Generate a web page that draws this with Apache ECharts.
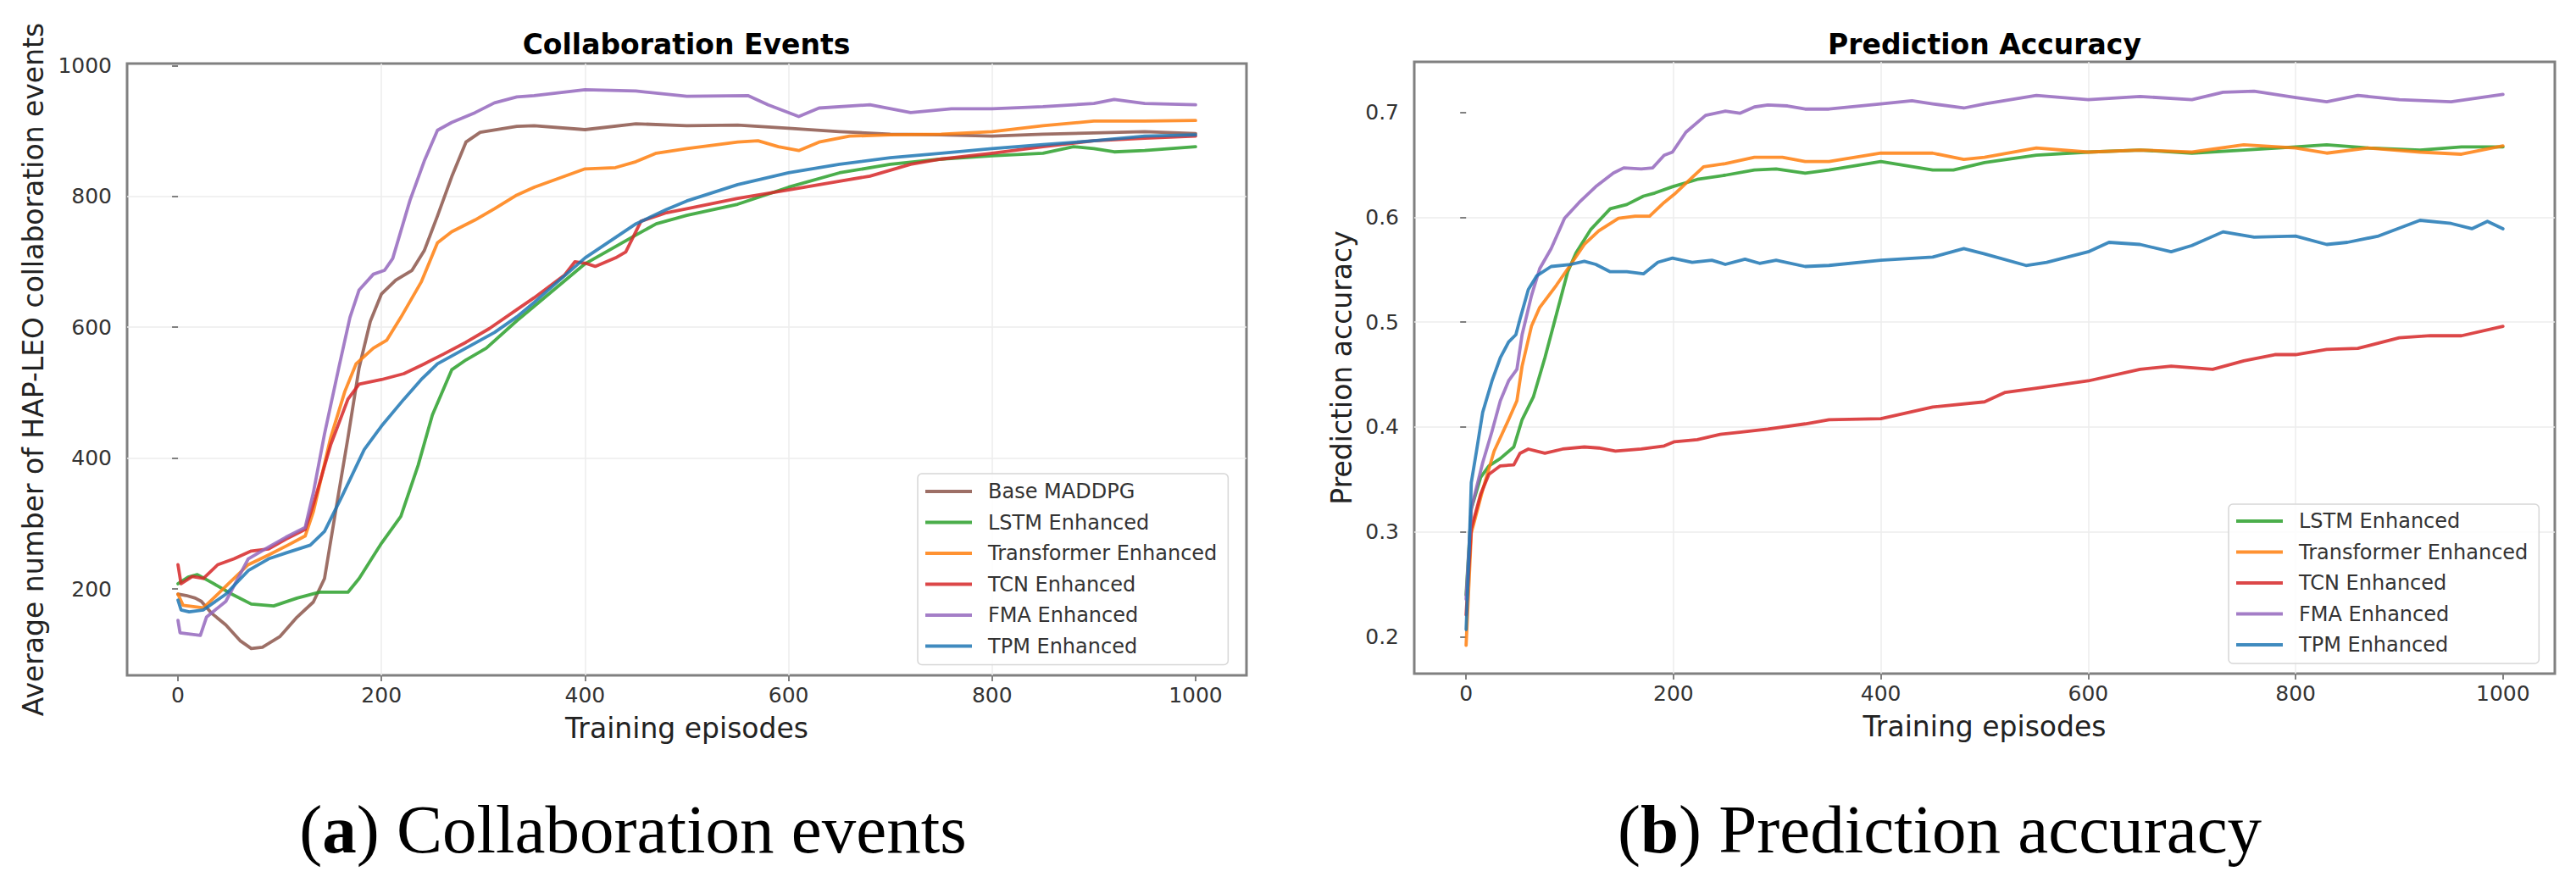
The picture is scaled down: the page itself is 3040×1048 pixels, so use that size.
<!DOCTYPE html>
<html>
<head>
<meta charset="utf-8">
<script src="https://cdn.jsdelivr.net/npm/echarts@6/dist/echarts.min.js"></script>
<style>
  html, body { margin: 0; padding: 0; background: #ffffff; }
  #c { width: 3040px; height: 1048px; }
</style>
</head>
<body>
<div id="c"></div>
<script>
// ---------- DATA ----------
const xTicks = [0, 200, 400, 600, 800, 1000];
const collabTicks = [200, 400, 600, 800, 1000];
const accTicks = [0.2, 0.3, 0.4, 0.5, 0.6, 0.7];

const collabNames = ['Base MADDPG', 'LSTM Enhanced', 'Transformer Enhanced', 'TCN Enhanced', 'FMA Enhanced', 'TPM Enhanced'];
const accNames = ['LSTM Enhanced', 'Transformer Enhanced', 'TCN Enhanced', 'FMA Enhanced', 'TPM Enhanced'];

// Collaboration events: [episode, value]
const collabBase = [[0,192],[8,190],[17,186],[23,181],[33,163],[47,145],[61,121],[72,109],[83,111],[100,127],[117,157],[133,180],[144,216],[156,329],[167,431],[178,538],[189,609],[200,651],[214,672],[230,687],[242,717],[255,770],[269,830],[283,883],[297,898],[333,907],[350,908],[400,902],[450,911],[500,908],[550,909],[600,904],[650,899],[700,895],[750,894],[800,892],[850,895],[900,897],[950,899],[1000,896]];
const collabLSTM = [[0,208],[10,218],[19,222],[33,210],[53,192],[72,177],[94,174],[117,186],[139,195],[167,195],[178,216],[200,270],[219,311],[236,389],[250,466],[269,535],[283,550],[303,568],[333,610],[350,632],[400,697],[450,741],[470,758],[500,771],[550,788],[600,814],[650,836],[700,849],[750,857],[800,862],[850,866],[880,876],[900,873],[920,868],[950,870],[1000,876]];
const collabTransformer = [[0,192],[5,175],[25,171],[47,204],[69,237],[89,252],[108,267],[125,281],[133,318],[150,431],[164,502],[175,544],[192,568],[205,580],[219,615],[239,669],[255,729],[269,746],[292,764],[311,781],[333,802],[350,814],[400,842],[430,844],[450,853],[470,866],[500,873],[550,883],[570,885],[590,876],[610,870],[630,883],[660,892],[700,894],[750,895],[800,899],[850,908],[900,915],[950,915],[1000,916]];
const collabTCN = [[0,237],[3,208],[14,219],[25,216],[39,237],[55,246],[72,258],[89,261],[106,276],[125,291],[133,329],[150,420],[167,490],[178,513],[200,520],[222,529],[242,544],[261,559],[283,577],[306,598],[333,627],[350,645],[380,680],[390,700],[400,698],[410,693],[430,706],[440,715],[455,762],[480,775],[500,781],[550,797],[600,810],[650,823],[680,831],[720,849],[750,857],[800,866],[850,876],[900,885],[950,889],[1000,892]];
const collabFMA = [[0,152],[2,133],[22,129],[28,157],[47,181],[69,246],[89,264],[106,279],[125,294],[133,347],[144,437],[158,538],[169,615],[178,657],[192,681],[203,687],[211,705],[228,794],[242,854],[255,901],[269,913],[292,928],[311,943],[333,952],[350,954],[400,963],[450,961],[500,953],[560,954],[580,940],[610,922],[630,935],[680,940],[720,928],[760,934],[800,934],[850,937],[900,942],[920,948],[950,942],[1000,940]];
const collabTPM = [[0,183],[3,168],[11,165],[25,168],[47,192],[69,228],[89,246],[106,255],[130,267],[144,288],[161,341],[183,413],[200,449],[222,490],[239,520],[255,544],[283,568],[311,592],[333,616],[350,638],[400,706],[450,758],[480,780],[500,793],[550,818],[600,836],[650,849],[700,859],[750,866],[800,873],[850,879],[900,885],[950,892],[1000,894]];

// Prediction accuracy: [episode, value]
const accLSTM = [[0,0.240],[5,0.322],[14,0.352],[22,0.363],[33,0.370],[46,0.381],[54,0.407],[65,0.429],[76,0.466],[87,0.507],[98,0.548],[106,0.566],[120,0.588],[139,0.608],[155,0.612],[171,0.620],[182,0.623],[199,0.629],[223,0.636],[250,0.640],[278,0.645],[299,0.646],[327,0.642],[350,0.645],[400,0.653],[450,0.645],[470,0.645],[500,0.652],[550,0.659],[600,0.662],[650,0.664],[700,0.661],[750,0.664],[800,0.667],[830,0.669],[870,0.666],[920,0.664],[960,0.667],[1000,0.667]];
const accTransformer = [[0,0.192],[5,0.299],[16,0.340],[27,0.377],[41,0.407],[49,0.425],[54,0.458],[63,0.496],[71,0.514],[87,0.535],[101,0.555],[114,0.574],[128,0.587],[147,0.599],[163,0.601],[177,0.601],[191,0.614],[201,0.622],[215,0.635],[229,0.648],[250,0.651],[278,0.657],[305,0.657],[327,0.653],[350,0.653],[400,0.661],[450,0.661],[480,0.655],[500,0.657],[550,0.666],[600,0.662],[650,0.664],[700,0.662],[750,0.669],[800,0.666],[830,0.661],[870,0.666],[920,0.662],[960,0.660],[1000,0.668]];
const accTCN = [[0,0.221],[5,0.303],[14,0.336],[22,0.355],[33,0.363],[46,0.364],[52,0.375],[60,0.379],[76,0.375],[93,0.379],[114,0.381],[128,0.380],[144,0.377],[169,0.379],[191,0.382],[201,0.386],[223,0.388],[245,0.393],[264,0.395],[291,0.398],[327,0.403],[350,0.407],[400,0.408],[450,0.419],[500,0.424],[520,0.433],[550,0.437],[600,0.444],[650,0.455],[680,0.458],[720,0.455],[750,0.463],[780,0.469],[800,0.469],[830,0.474],[860,0.475],[900,0.485],[930,0.487],[960,0.487],[1000,0.496]];
const accFMA = [[0,0.236],[5,0.322],[16,0.366],[25,0.396],[33,0.425],[41,0.444],[49,0.455],[54,0.488],[63,0.525],[71,0.551],[82,0.570],[95,0.599],[109,0.614],[125,0.629],[142,0.642],[152,0.647],[169,0.646],[180,0.647],[191,0.659],[199,0.662],[212,0.681],[231,0.697],[250,0.701],[264,0.699],[278,0.705],[291,0.707],[310,0.706],[327,0.703],[350,0.703],[400,0.708],[430,0.711],[450,0.708],[480,0.704],[500,0.708],[550,0.716],[600,0.712],[650,0.715],[700,0.712],[730,0.719],[760,0.720],[800,0.714],[830,0.710],[860,0.716],[900,0.712],[950,0.710],[1000,0.717]];
const accTPM = [[0,0.207],[3,0.284],[5,0.347],[10,0.377],[16,0.414],[25,0.444],[33,0.466],[41,0.481],[48,0.488],[52,0.503],[60,0.531],[68,0.544],[82,0.553],[101,0.555],[114,0.558],[125,0.555],[139,0.548],[155,0.548],[171,0.546],[185,0.557],[199,0.561],[218,0.557],[237,0.559],[250,0.555],[269,0.560],[283,0.556],[299,0.559],[327,0.553],[350,0.554],[400,0.559],[450,0.562],[480,0.570],[500,0.565],[540,0.554],[560,0.557],[600,0.567],[620,0.576],[650,0.574],[680,0.567],[700,0.573],[730,0.586],[760,0.581],[800,0.582],[830,0.574],[850,0.576],[880,0.582],[920,0.597],[950,0.594],[970,0.589],[985,0.596],[1000,0.589]];

// ---------- STYLE ----------
const COLORS = {
  'Base MADDPG': '#8c564b',
  'LSTM Enhanced': '#2ca02c',
  'Transformer Enhanced': '#ff7f0e',
  'TCN Enhanced': '#d62728',
  'FMA Enhanced': '#9467bd',
  'TPM Enhanced': '#1f77b4'
};
const SANS = '"DejaVu Sans", "Noto Sans", sans-serif';
const SERIF = '"Liberation Serif", "DejaVu Serif", serif';
const SPINE = '#808080';

function xAxisCfg(gridIndex) {
  return {
    gridIndex, type: 'value', min: -50, max: 1050, splitNumber: 5,
    name: 'Training episodes', nameLocation: 'middle', nameGap: 46,
    nameTextStyle: { fontFamily: SANS, fontSize: 33, color: '#222' },
    axisLine: { show: false },
    axisTick: { show: true, length: 7, customValues: xTicks, lineStyle: { color: SPINE, width: 2 } },
    axisLabel: { customValues: xTicks, margin: 11, fontFamily: SANS, fontSize: 25, color: '#333',
      formatter: v => (xTicks.indexOf(v) >= 0 ? String(v) : '') },
    splitLine: { show: true, showMinLine: false, showMaxLine: false, lineStyle: { color: '#ececec', width: 1.5 } }
  };
}
function yAxisCfg(gridIndex, min, max, ticks, name, gap, fmt) {
  return {
    gridIndex, type: 'value', min, max, splitNumber: 5,
    name, nameLocation: 'middle', nameGap: gap,
    nameTextStyle: { fontFamily: SANS, fontSize: 33, color: '#222' },
    axisLine: { show: false },
    axisTick: { show: true, length: 7, customValues: ticks, lineStyle: { color: SPINE, width: 2 } },
    axisLabel: { customValues: ticks, margin: 18, fontFamily: SANS, fontSize: 25, color: '#333',
      formatter: v => { const hit = ticks.find(t => Math.abs(t - v) < 1e-6); return hit === undefined ? '' : fmt(hit); } },
    splitLine: { show: true, showMinLine: false, showMaxLine: false, lineStyle: { color: '#ececec', width: 1.5 } }
  };
}
function lineSeries(name, data, idx) {
  return {
    type: 'line', name, data, xAxisIndex: idx, yAxisIndex: idx,
    showSymbol: false, symbol: 'none', smooth: false, animation: false,
    lineStyle: { color: COLORS[name], width: 3.8, opacity: 0.85, join: 'round', cap: 'round' },
    itemStyle: { color: COLORS[name] },
    emphasis: { disabled: true }
  };
}
function legendCfg(names, left, top, padTop) {
  return {
    show: true, orient: 'vertical', left, top,
    data: names.map(n => ({ name: n, icon: 'rect', itemStyle: { color: COLORS[n], opacity: 0.85 } })),
    itemWidth: 55, itemHeight: 4, itemGap: 12.5,
    padding: [padTop, 13, 10, 9],
    backgroundColor: 'rgba(255,255,255,0.85)', borderColor: '#d6d6d6', borderWidth: 1.5, borderRadius: 5,
    textStyle: { fontFamily: SANS, fontSize: 24, color: '#333', lineHeight: 24, padding: [0, 0, 0, 14] },
    selectedMode: false
  };
}

const collabData = [collabBase, collabLSTM, collabTransformer, collabTCN, collabFMA, collabTPM];
const accData = [accLSTM, accTransformer, accTCN, accFMA, accTPM];

const option = {
  backgroundColor: '#ffffff',
  animation: false,
  grid: [
    { left: 150, top: 75, width: 1321, height: 722, show: true, borderColor: SPINE, borderWidth: 3, backgroundColor: 'transparent' },
    { left: 1669, top: 73, width: 1346, height: 722, show: true, borderColor: SPINE, borderWidth: 3, backgroundColor: 'transparent' }
  ],
  xAxis: [xAxisCfg(0), xAxisCfg(1)],
  yAxis: [
    yAxisCfg(0, 68, 1003, collabTicks, 'Average number of HAP-LEO collaboration events', 94, v => String(v)),
    yAxisCfg(1, 0.165, 0.748, accTicks, 'Prediction accuracy', 69, v => v.toFixed(1))
  ],
  legend: [
    legendCfg(collabNames, 1083, 559, 9),
    legendCfg(accNames, 2630, 595, 8)
  ],
  series: [
    ...collabNames.map((n, i) => lineSeries(n, collabData[i], 0)),
    ...accNames.map((n, i) => lineSeries(n, accData[i], 1))
  ],
  graphic: [
    { type: 'text', x: 810, y: 52, z: 10,
      style: { text: 'Collaboration Events', fontFamily: SANS, fontSize: 33, fontWeight: 'bold', fill: '#000',
        align: 'center', verticalAlign: 'middle', textAlign: 'center', textVerticalAlign: 'middle' } },
    { type: 'text', x: 2342, y: 52, z: 10,
      style: { text: 'Prediction Accuracy', fontFamily: SANS, fontSize: 33, fontWeight: 'bold', fill: '#000',
        align: 'center', verticalAlign: 'middle', textAlign: 'center', textVerticalAlign: 'middle' } },
    { type: 'text', x: 747, y: 979, z: 10,
      style: { text: '({b|a}) Collaboration events', fontFamily: SERIF, fontSize: 81, fill: '#000',
        align: 'center', verticalAlign: 'middle', textAlign: 'center', textVerticalAlign: 'middle',
        rich: { b: { fontFamily: SERIF, fontSize: 81, fontWeight: 'bold', fill: '#000' } } } },
    { type: 'text', x: 2289, y: 979, z: 10,
      style: { text: '({b|b}) Prediction accuracy', fontFamily: SERIF, fontSize: 81, fill: '#000',
        align: 'center', verticalAlign: 'middle', textAlign: 'center', textVerticalAlign: 'middle',
        rich: { b: { fontFamily: SERIF, fontSize: 81, fontWeight: 'bold', fill: '#000' } } } }
  ]
};

const chart = echarts.init(document.getElementById('c'), null, { renderer: 'svg', width: 3040, height: 1048 });
chart.setOption(option);
</script>
</body>
</html>
